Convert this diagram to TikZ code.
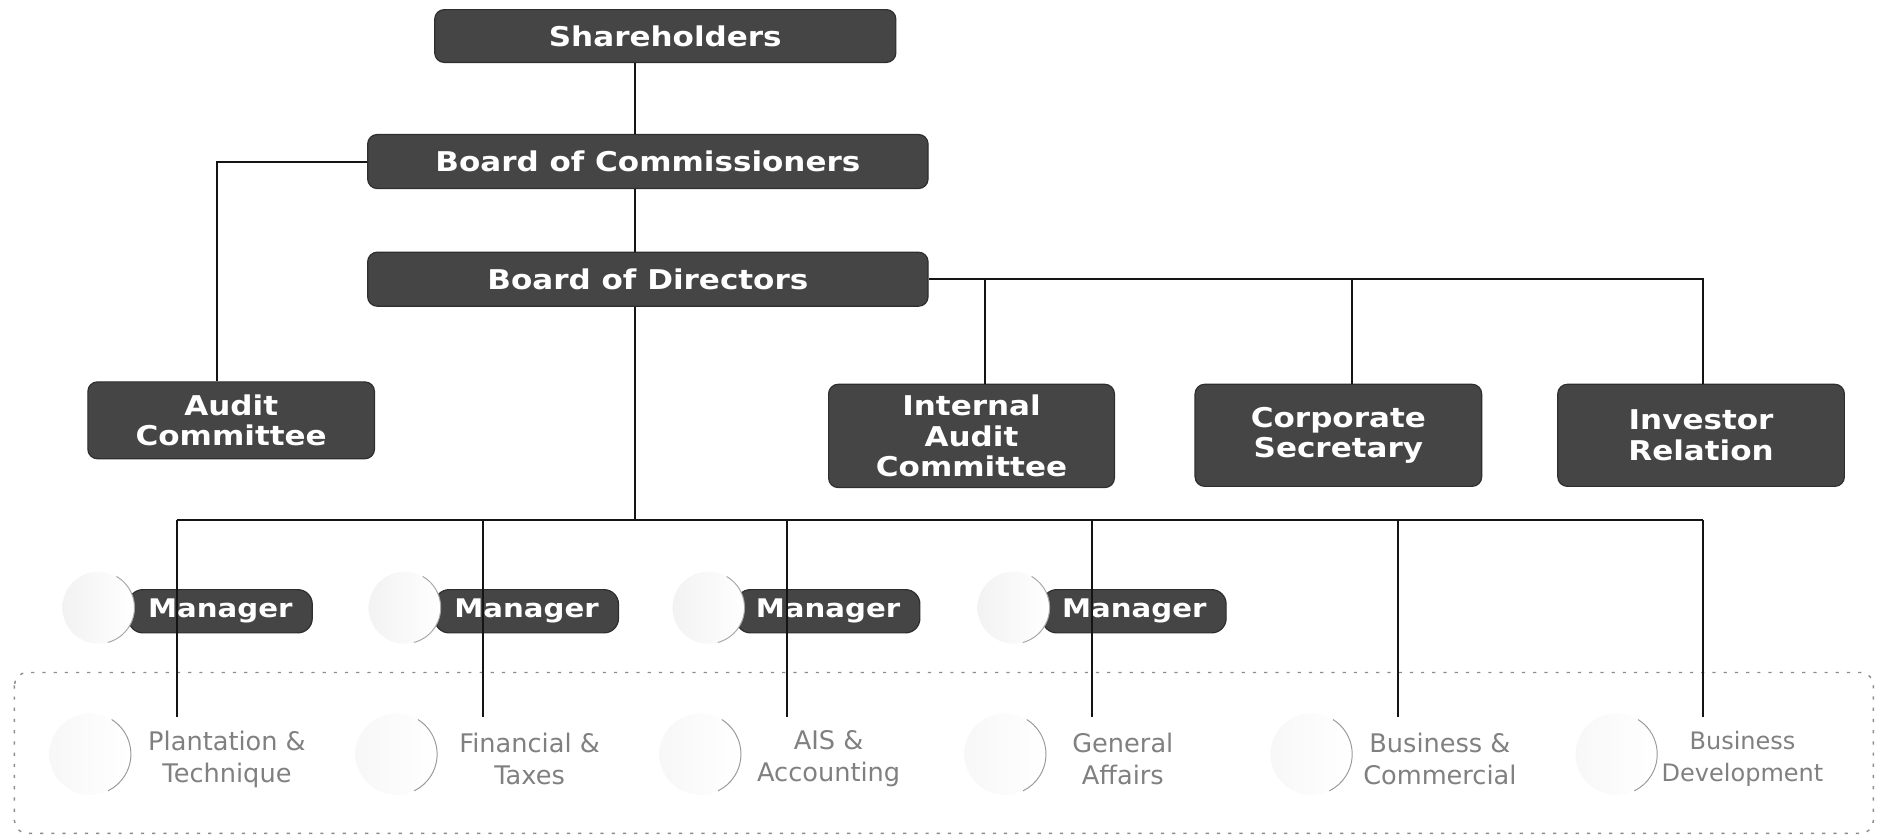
\documentclass[tikz,border=0pt]{standalone}
\usepackage{fontspec}
\setmainfont{DejaVu Sans}
\newfontfamily\headfont{DejaVu Sans}[FakeStretch=1.14]
\usepackage{tikz}
\tikzset{every picture/.style={line width=0.75pt}}
\tikzset{
  orgbox/.style={rounded corners=6pt, fill=black!73, draw=black!82, text=white,
    font=\headfont\bfseries\fontsize{17}{19}\selectfont, align=center, inner sep=0pt},
  mgrbox/.style={orgbox, minimum width=114.75pt, minimum height=27pt, rounded corners=9pt,
    font=\headfont\bfseries\fontsize{16}{18}\selectfont},
  deptlabel/.style={text=black!50, font=\fontsize{16}{20}\selectfont, align=center},
  orgline/.style={line width=1.25pt, black!92},
  deptframe/.style={black!45, line width=0.9pt, dash pattern=on 2pt off 5pt, rounded corners=8pt}
}

\begin{document}
\begin{tikzpicture}[x=0.75pt,y=0.75pt,yscale=-1,xscale=1]
\useasboundingbox (0,0) rectangle (1568,696);

%Shape: dashed frame round the departments
\draw [deptframe] (12,560) rectangle (1560,694);

% Top of the structure
\draw (554,30) node [orgbox, minimum width=288pt, minimum height=33pt] (share) {Shareholders};
\draw (539.5,134.5) node [orgbox, minimum width=350pt, minimum height=33.75pt] (boc) {Board of Commissioners};
\draw (539.5,232.5) node [orgbox, minimum width=350pt, minimum height=33.75pt] (bod) {Board of Directors};

% Committees and staff units
\draw (192.5,350) node [orgbox, minimum width=179pt, minimum height=48pt] (audit) {Audit\\Committee};
\draw (809,363) node [orgbox, minimum width=178.5pt, minimum height=64.5pt] (iac) {Internal\\Audit\\Committee};
\draw (1114.5,362.5) node [orgbox, minimum width=179pt, minimum height=63.75pt] (sec) {Corporate\\Secretary};
\draw (1416.5,362.5) node [orgbox, minimum width=179pt, minimum height=63.75pt] (inv) {Investor\\Relation};

% Managers
\draw (183.5,509) node [mgrbox] (m1) {Manager};
\draw (438.5,509) node [mgrbox] (m2) {Manager};
\draw (689.5,509) node [mgrbox] (m3) {Manager};
\draw (944.5,509) node [mgrbox] (m4) {Manager};

% Bubbles at the left end of the manager boxes
\foreach \x in {147,402,655,909}{
  \shade [left color=black!5, right color=white] (\x-65,506) circle (30);
  \draw [black!35, line width=0.6pt] (\x-65,506) ++(-60:30) arc (-60:75:30);
}

% Bubbles in front of the departments
\foreach \x in {147,402,655,909,1164,1418}{
  \shade [left color=black!3, right color=white] (\x-72,628) circle (34);
  \draw [black!40, line width=0.6pt] (\x-72,628) ++(-58:34) arc (-58:64:34);
}

% Departments
\draw (189,632) node [deptlabel] (u1) {Plantation \&\\Technique};
\draw (441,632) node [deptlabel] (u2) {Financial \&\\Taxes};
\draw (690,632) node [deptlabel] (u3) {AIS \&\\Accounting};
\draw (935,632) node [deptlabel] (u4) {General\\Affairs};
\draw (1199,632) node [deptlabel] (u5) {Business \&\\Commercial};
\draw (1451,632) node [deptlabel, font=\fontsize{15}{20}\selectfont] (u6) {Business\\Development};

% Junctions
\coordinate (trunk) at (529,433);
\coordinate (aud) at (181,134.5);
\coordinate (j1) at (820,232.5);
\coordinate (j2) at (1126,232.5);
\coordinate (j3) at (1418,232.5);
\coordinate (b1) at (147,433);
\coordinate (b2) at (402,433);
\coordinate (b3) at (655,433);
\coordinate (b4) at (909,433);
\coordinate (b5) at (1164,433);
\coordinate (b6) at (1418,433);
\coordinate (e1) at (147,597);
\coordinate (e2) at (402,597);
\coordinate (e3) at (655,597);
\coordinate (e4) at (909,597);
\coordinate (e5) at (1164,597);
\coordinate (e6) at (1418,597);

%Straight Lines
\draw [orgline] (share.south -| trunk) -- (boc.north -| trunk);
\draw [orgline] (boc.south -| trunk) -- (bod.north -| trunk);
\draw [orgline] (bod.south -| trunk) -- (trunk);
\draw [orgline] (boc.west) -- (aud) -- (aud |- audit.north);
\draw [orgline] (bod.east) -- (j3) -- (j3 |- inv.north);
\draw [orgline] (j1) -- (j1 |- iac.north);
\draw [orgline] (j2) -- (j2 |- sec.north);
\draw [orgline] (b1) -- (b6);
\foreach \i in {1,...,6}
  \draw [orgline] (b\i) -- (e\i);

\end{tikzpicture}
\end{document}
